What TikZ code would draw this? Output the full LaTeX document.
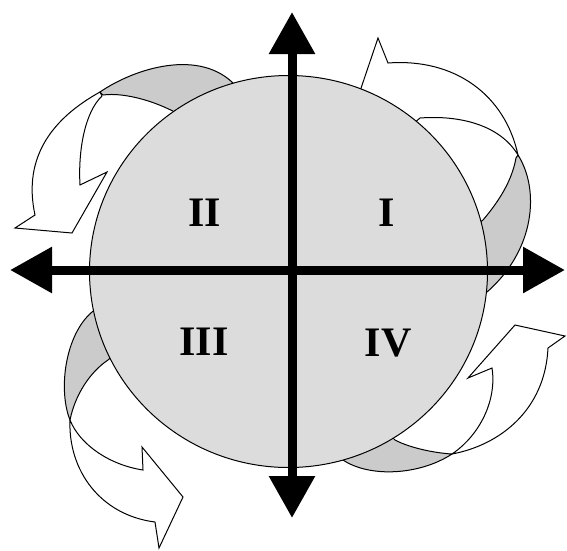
\documentclass[tikz,border=0pt]{standalone}
\usepackage{fontspec}
\setmainfont{Liberation Serif}
\definecolor{disc}{HTML}{DCDCDC}
\definecolor{ribbon}{HTML}{CBCBCB}
\usetikzlibrary{arrows.meta}

\begin{document}
\begin{tikzpicture}[x=1pt, y=-1pt,
  back/.style={draw=black, fill=ribbon, line width=1pt, line join=round},
  front/.style={draw=black, fill=white, line width=1pt},
  axis/.style={line width=9pt,
               {Triangle[length=42pt, width=44pt]}-{Triangle[length=42pt, width=44pt]}},
  quad/.style={font=\fontsize{42}{42}\selectfont\bfseries, inner sep=0pt},
]
\useasboundingbox (0,0) rectangle (567,550);
\coordinate (O) at (288.5,271.5);
\coordinate (N) at (292,12);
\coordinate (S) at (292,518);
\coordinate (W) at (10,270);
\coordinate (E) at (565,270);

% back side of the ribbons
\draw[back] (100,92) .. controls (135,68) and (200,48) .. (235,85) -- (245,105)
  -- (185,118) .. controls (160,102) and (125,92) .. (103,95) -- cycle;
\draw[back] (518,155) .. controls (540,190) and (535,250) .. (487,292) -- (465,285)
  -- (470,230) -- (483,220) .. controls (500,200) and (512,180) .. (516,158) -- cycle;
\draw[back] (92,312) .. controls (65,335) and (58,390) .. (70,420)
  .. controls (75,395) and (90,372) .. (108,360) -- (125,345) -- (110,300) -- cycle;
\draw[back] (343,460) .. controls (370,478) and (420,475) .. (452,454)
  .. controls (435,453) and (410,448) .. (395,440) -- (380,425) -- (335,440) -- cycle;

% front side with heads
\draw[front] (100,92) .. controls (55,117) and (22,155) .. (35,215) -- (15,228) -- (72,233)
  -- (107,172) -- (80,185) .. controls (78,150) and (85,112) .. (102,96) -- cycle;
\draw[front] (357,100) -- (378,38) -- (388,63) .. controls (455,58) and (505,95) .. (518,155)
  .. controls (500,125) and (460,115) .. (420,118) -- (400,135) -- cycle;
\draw[front] (70,420) .. controls (68,470) and (100,515) .. (155,522) -- (159,548) -- (183,497)
  -- (142,447) -- (143,470) .. controls (110,465) and (80,445) .. (70,420) -- cycle;
\draw[front] (452,454) .. controls (500,445) and (545,410) .. (548,348) -- (565,336) -- (515,325)
  -- (468,378) -- (492,368) .. controls (497,400) and (480,435) .. (452,454) -- cycle;

\draw[line width=1pt, fill=disc] (O) ellipse [x radius=199pt, y radius=196pt];

\draw[axis] (S) -- (N);
\draw[axis] (W) -- (E);

\node[quad] (q2) at (205,213) {II};
\node[quad] (q1) at (387,213) {I};
\node[quad] (q3) at (204,342) {III};
\node[quad] (q4) at (388,343) {IV};
\end{tikzpicture}
\end{document}
